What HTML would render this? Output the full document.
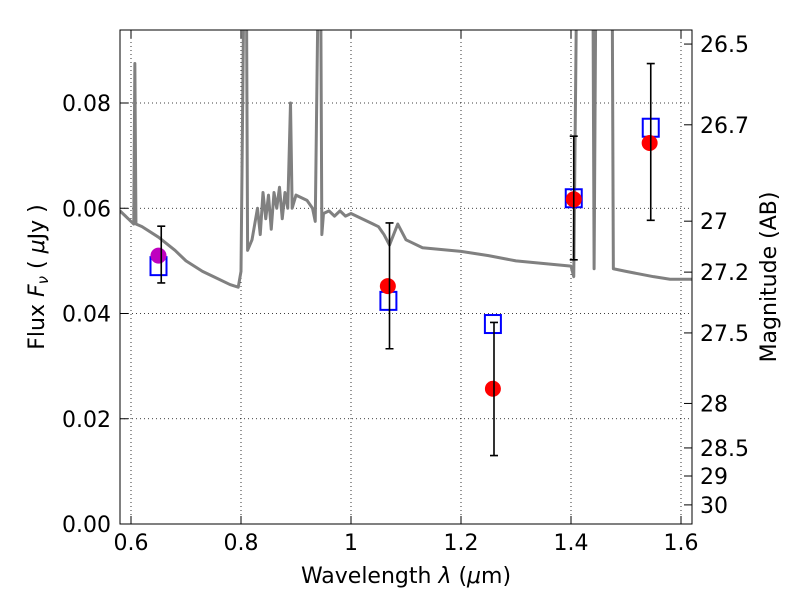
<!DOCTYPE html>
<html><head><meta charset="utf-8"><style>
body{margin:0;background:#fff;}
svg{font-family:"DejaVu Sans","Liberation Sans",sans-serif;}
</style></head><body>
<svg id="chart" width="800" height="600" viewBox="0 0 800 600" xmlns="http://www.w3.org/2000/svg">
<defs><clipPath id="clip"><rect x="120" y="30" width="572" height="494"/></clipPath></defs>
<rect x="0" y="0" width="800" height="600" fill="#fff"/>
<g id="grid"></g>
<g id="marks" clip-path="url(#clip)"></g>
<g id="axes"></g>
<text x="406" y="583" font-size="22" text-anchor="middle">Wavelength  <tspan font-style="italic">λ</tspan> (<tspan font-style="italic">μ</tspan>m)</text>
<text transform="translate(44,277) rotate(-90)" font-size="22" text-anchor="middle">Flux  <tspan font-style="italic">F</tspan><tspan font-style="italic" font-size="15" dy="4">ν</tspan><tspan dy="-4">  ( </tspan><tspan font-style="italic">μ</tspan>Jy )</text>
<text transform="translate(776,277) rotate(-90)" font-size="22" text-anchor="middle">Magnitude (AB)</text>
</svg>
<script>
const specWave=[0.58,0.59,0.60,0.605,0.607,0.609,0.62,0.65,0.68,0.70,0.73,0.75,0.78,0.795,0.80,0.805,0.81,0.812,0.82,0.83,0.835,0.84,0.845,0.85,0.855,0.86,0.865,0.87,0.875,0.88,0.885,0.89,0.893,0.90,0.92,0.93,0.935,0.94,0.945,0.947,0.95,0.96,0.97,0.98,0.99,1.00,1.02,1.04,1.05,1.06,1.07,1.085,1.10,1.11,1.13,1.2,1.25,1.3,1.35,1.40,1.405,1.41,1.44,1.442,1.445,1.475,1.477,1.50,1.55,1.58,1.62];
const specFlux=[0.0595,0.0585,0.0575,0.057,0.0875,0.057,0.0565,0.0545,0.052,0.050,0.048,0.047,0.0455,0.045,0.048,0.1,0.1,0.052,0.054,0.06,0.055,0.063,0.058,0.0625,0.056,0.063,0.06,0.064,0.058,0.063,0.06,0.08,0.06,0.0625,0.0615,0.06,0.0575,0.1,0.1,0.055,0.059,0.0595,0.0585,0.0595,0.0585,0.059,0.058,0.057,0.0565,0.055,0.053,0.057,0.054,0.0535,0.0525,0.0518,0.051,0.050,0.0495,0.049,0.047,0.1,0.1,0.0485,0.1,0.1,0.0485,0.048,0.047,0.0465,0.0465];
const obsWave=[0.650,1.067,1.258,1.405,1.543];
const obsFlux=[0.0510,0.0452,0.0257,0.0617,0.0724];
const errLow=[0.0458,0.0333,0.0130,0.0502,0.0577];
const errHigh=[0.0566,0.0572,0.0383,0.0737,0.0875];
const errWave=[0.655,1.070,1.260,1.405,1.545];
const modelWave=[0.650,1.068,1.258,1.405,1.545];
const modelFlux=[0.0490,0.0424,0.0380,0.0619,0.0753];
const obsColors=["#bf00bf","red","red","red","red"];
const xTicks=[0.6,0.8,1.0,1.2,1.4,1.6];
const xTickLabels=["0.6","0.8","1","1.2","1.4","1.6"];
const yTicks=[0,0.02,0.04,0.06,0.08];
const yTickLabels=["0.00","0.02","0.04","0.06","0.08"];
const magTicks=[26.5,26.7,27,27.2,27.5,28,28.5,29,30];
const magTickLabels=["26.5","26.7","27","27.2","27.5","28","28.5","29","30"];

const X=v=>120+(v-0.58)*550;
const Y=v=>524-v*5262.5;
const magY=m=>Y(Math.pow(10,(23.9-m)/2.5));
const NS="http://www.w3.org/2000/svg";
function mk(tag,attrs,parent){const e=document.createElementNS(NS,tag);for(const k in attrs)e.setAttribute(k,attrs[k]);parent.appendChild(e);return e;}
const grid=document.getElementById('grid'),marks=document.getElementById('marks'),axes=document.getElementById('axes');

xTicks.forEach((t,i)=>{
  const g=mk('line',{x1:X(t),x2:X(t),y1:30,y2:524,stroke:'#000','stroke-dasharray':'1,3','stroke-width':0.8},grid);
  
  
  mk('line',{x1:X(t),x2:X(t),y1:524,y2:516,stroke:'#000'},axes);
  mk('line',{x1:X(t),x2:X(t),y1:30,y2:38,stroke:'#000'},axes);
  const tx=mk('text',{x:X(t),y:550,'font-size':22,'text-anchor':'middle'},axes);
  tx.textContent=xTickLabels[i];
  
  
});
yTicks.forEach((t,i)=>{
  const g=mk('line',{x1:120,x2:692,y1:Y(t),y2:Y(t),stroke:'#000','stroke-dasharray':'1,3','stroke-width':0.8},grid);
  
  
  mk('line',{x1:120,x2:128,y1:Y(t),y2:Y(t),stroke:'#000'},axes);
  const tx=mk('text',{x:111,y:Y(t)+8,'font-size':22,'text-anchor':'end'},axes);
  tx.textContent=yTickLabels[i];
  
  
});
magTicks.forEach((m,i)=>{
  const y=magY(m);
  mk('line',{x1:684,x2:692,y1:y,y2:y,stroke:'#000'},axes);
  const tx=mk('text',{x:700,y:y+8,'font-size':22},axes);
  tx.textContent=magTickLabels[i];
  
  
});

const spec=mk('polyline',{points:specWave.map((w,i)=>X(w)+','+Y(specFlux[i])).join(' '),fill:'none',stroke:'#808080','stroke-width':3,'stroke-linejoin':'round'},marks);



modelWave.forEach((w,i)=>{
  const r=mk('rect',{x:X(w)-8,y:Y(modelFlux[i])-9,width:16,height:18,fill:'none',stroke:'#0000ff','stroke-width':2},marks);
  
  
});
obsWave.forEach((w,i)=>{
  const c=mk('circle',{cx:X(w),cy:Y(obsFlux[i]),r:8,fill:obsColors[i]},marks);
  
  
});
errWave.forEach((w,i)=>{
  const x=X(w),y1=Y(errLow[i]),y2=Y(errHigh[i]);
  const e=mk('path',{d:`M${x},${y1}V${y2}M${x-4},${y1}H${x+4}M${x-4},${y2}H${x+4}`,stroke:'#000','stroke-width':1.6,fill:'none'},marks);
  
  
});
const frame=mk('rect',{x:120,y:30,width:572,height:494,fill:'none',stroke:'#000','stroke-width':1},axes);


</script>
</body></html>
